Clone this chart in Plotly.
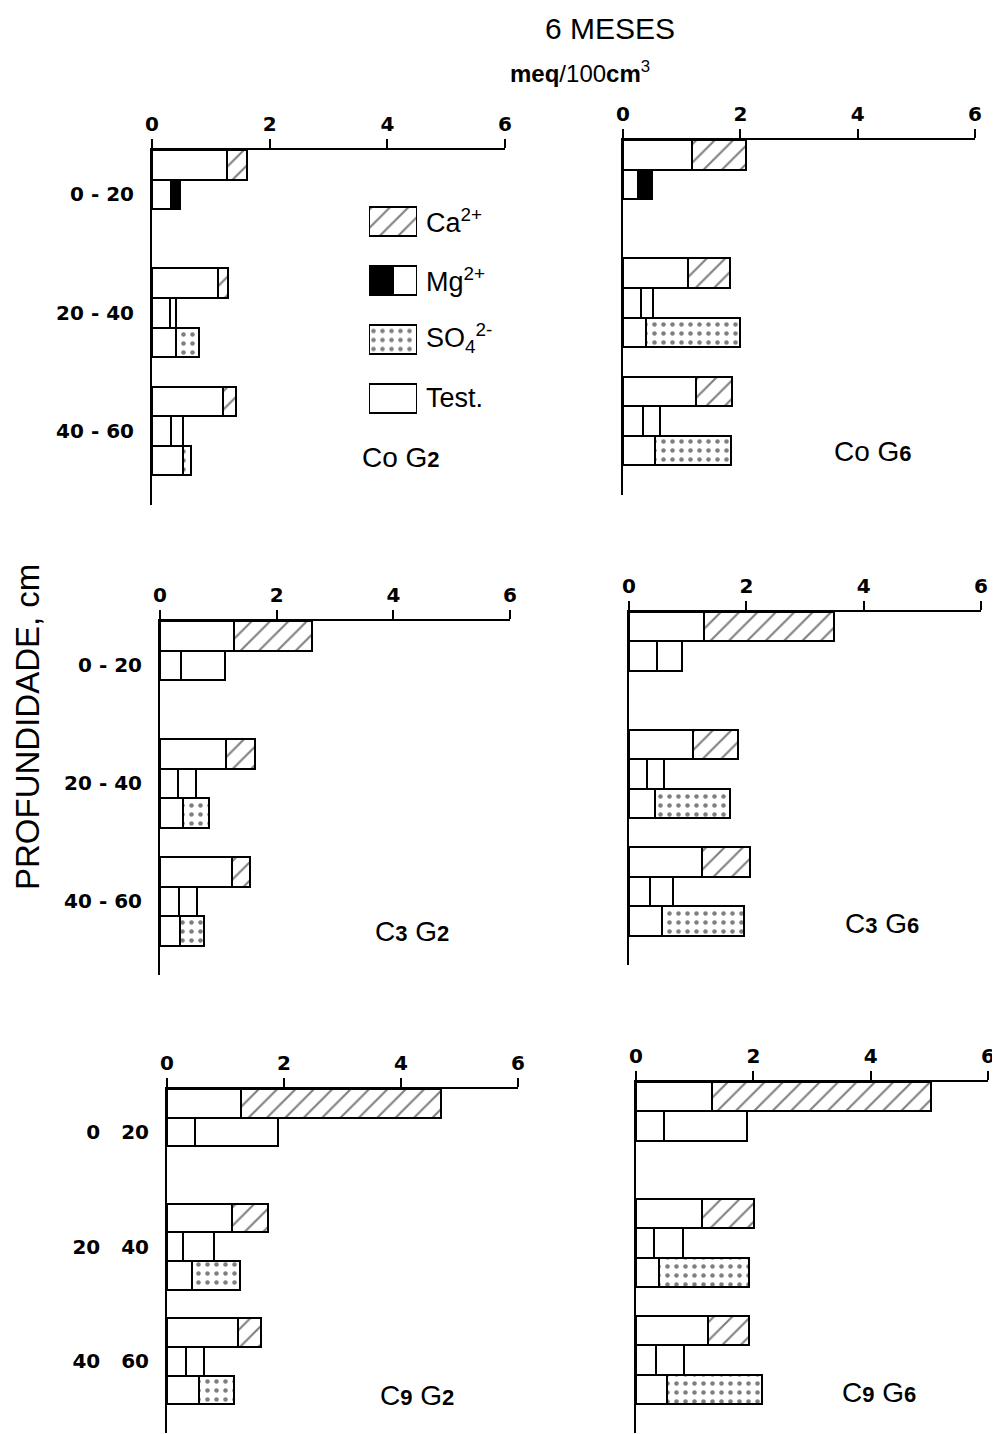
import plotly.graph_objects as go

# page body has an 8px margin: figure is drawn 8px in from the window corner
OFF = 8
W, H = 1000 - OFF, 1434 - OFF

# ---------------- data (meq/100cm3) ----------------
PANELS = ["CoG2", "CoG6", "C3G2", "C3G6", "C9G2", "C9G6"]
PANEL_TITLES = [
    "Co G<span style='font-size:22px'><b>2</b></span>",
    "Co G<span style='font-size:22px'><b>6</b></span>",
    "C<span style='font-size:22px'><b>3</b></span> G<span style='font-size:22px'><b>2</b></span>",
    "C<span style='font-size:22px'><b>3</b></span> G<span style='font-size:22px'><b>6</b></span>",
    "C<span style='font-size:22px'><b>9</b></span> G<span style='font-size:22px'><b>2</b></span>",
    "C<span style='font-size:22px'><b>9</b></span> G<span style='font-size:22px'><b>6</b></span>",
]
DEPTHS = ["0 - 20", "20 - 40", "40 - 60"]
DEPTHS_NODASH = ["0   20", "20   40", "40   60"]
X_TICKS = [0, 2, 4, 6]

CA_TEST = [
    [1.27, 1.13, 1.21],
    [1.17, 1.11, 1.24],
    [1.27, 1.13, 1.24],
    [1.27, 1.09, 1.25],
    [1.26, 1.11, 1.22],
    [1.29, 1.12, 1.23],
]
CA_TOTAL = [
    [1.61, 1.30, 1.42],
    [2.10, 1.82, 1.86],
    [2.60, 1.62, 1.54],
    [3.50, 1.85, 2.06],
    [4.68, 1.72, 1.61],
    [5.02, 2.01, 1.93],
]
MG_TEST = [
    [0.33, 0.31, 0.32],
    [0.26, 0.30, 0.34],
    [0.36, 0.30, 0.33],
    [0.48, 0.31, 0.35],
    [0.47, 0.28, 0.32],
    [0.48, 0.31, 0.34],
]
MG_TOTAL = [
    [0.48, 0.40, 0.52],
    [0.50, 0.51, 0.63],
    [1.11, 0.61, 0.64],
    [0.91, 0.60, 0.75],
    [1.89, 0.80, 0.64],
    [1.90, 0.80, 0.82],
]
SO4_TEST = [
    [None, 0.40, 0.53],
    [None, 0.40, 0.55],
    [None, 0.40, 0.34],
    [None, 0.44, 0.56],
    [None, 0.43, 0.54],
    [None, 0.40, 0.52],
]
SO4_TOTAL = [
    [None, 0.80, 0.67],
    [None, 2.00, 1.84],
    [None, 0.84, 0.75],
    [None, 1.73, 1.96],
    [None, 1.24, 1.14],
    [None, 1.93, 2.14],
]

LEGEND_LABELS = ["Ca<sup>2+</sup>", "Mg<sup>2+</sup>", "SO<sub>4</sub><sup>2-</sup>", "Test."]

# ---------------- styles / layout ----------------
MG_INC_COLOR = [
    ["black", "white", "white"],
    ["black", "white", "white"],
    ["white", "white", "white"],
    ["white", "white", "white"],
    ["white", "white", "white"],
    ["white", "white", "white"],
]
DEPTH_LABEL_SET = [DEPTHS, None, DEPTHS, None, DEPTHS_NODASH, None]
# panel boxes in window pixels: (x_left, x_right, y_top, y_bottom)
PANEL_PX = [
    (152, 505, 150, 505),
    (623, 975, 140, 495),
    (160, 510, 621, 975),
    (629, 981, 612, 965),
    (167, 518, 1089, 1433),
    (636, 988, 1082, 1433),
]
TITLE_PX = [(401, 457), (873, 451), (412, 931), (882, 923), (417, 1395), (879, 1392)]

LINE = dict(color="black", width=2)
HATCH = dict(shape="/", fgcolor="black", bgcolor="white", size=13, solidity=0.16)
DOTS = dict(shape=".", fgcolor="black", bgcolor="white", size=9, solidity=0.2)
TICKFONT = dict(family="DejaVu Sans", size=20, color="black", weight="bold")


def px_x(x):
    return (x - OFF) / W


def px_y(y):
    return 1 - (y - OFF) / H


def diff(tot, test):
    return [None if (a is None or b is None) else round(a - b, 3) for a, b in zip(tot, test)]


fig = go.Figure()
layout = {}

for i in range(6):
    xa = "x" if i == 0 else f"x{i + 1}"
    ya = "y" if i == 0 else f"y{i + 1}"
    ca_y = [4 * d for d in range(3)]
    mg_y = [4 * d + 1 for d in range(3)]
    so_y = [4 * d + 2 for d in range(3)]

    # control (Test.) bars
    fig.add_trace(go.Bar(
        x=CA_TEST[i] + MG_TEST[i] + SO4_TEST[i],
        y=ca_y + mg_y + so_y,
        orientation="h", width=1,
        marker=dict(color="white", line=LINE),
        xaxis=xa, yaxis=ya, showlegend=False, name="Test.",
    ))
    # increments
    fig.add_trace(go.Bar(
        x=diff(CA_TOTAL[i], CA_TEST[i]), y=ca_y, orientation="h", width=1,
        marker=dict(color="white", line=LINE, pattern=HATCH),
        xaxis=xa, yaxis=ya, showlegend=False, name="Ca2+",
    ))
    fig.add_trace(go.Bar(
        x=diff(MG_TOTAL[i], MG_TEST[i]), y=mg_y, orientation="h", width=1,
        marker=dict(color=MG_INC_COLOR[i], line=LINE),
        xaxis=xa, yaxis=ya, showlegend=False, name="Mg2+",
    ))
    fig.add_trace(go.Bar(
        x=diff(SO4_TOTAL[i], SO4_TEST[i]), y=so_y, orientation="h", width=1,
        marker=dict(color="white", line=LINE, pattern=DOTS),
        xaxis=xa, yaxis=ya, showlegend=False, name="SO42-",
    ))

    xl, xr, yt, yb = PANEL_PX[i]
    layout["xaxis" if i == 0 else f"xaxis{i + 1}"] = dict(
        domain=[px_x(xl), px_x(xr)], range=[0, 6], side="top", anchor=ya,
        tickvals=X_TICKS, ticktext=[str(v) for v in X_TICKS],
        ticks="outside", ticklen=9, tickwidth=2, tickcolor="black",
        showline=True, linewidth=2, linecolor="black", automargin=False,
        showgrid=False, zeroline=False, tickfont=TICKFONT,
    )
    ydict = dict(
        domain=[max(0.0, px_y(yb)), px_y(yt)], range=[11.5, -0.5], anchor=xa,
        ticks="", showline=True, linewidth=2, linecolor="black", automargin=False,
        showgrid=False, zeroline=False, tickfont=TICKFONT,
    )
    if DEPTH_LABEL_SET[i] is not None:
        ydict.update(tickvals=[1, 5, 9], ticktext=DEPTH_LABEL_SET[i], ticklabelstandoff=12)
    else:
        ydict.update(showticklabels=False)
    layout["yaxis" if i == 0 else f"yaxis{i + 1}"] = ydict

# ---------------- legend swatches (own hidden axes) ----------------
fig.add_trace(go.Bar(x=[2], y=[0], orientation="h", width=0.5,
                     marker=dict(color="white", line=LINE, pattern=HATCH),
                     xaxis="x7", yaxis="y7", showlegend=False))
fig.add_trace(go.Bar(x=[1], y=[1], orientation="h", width=0.5,
                     marker=dict(color="black", line=LINE),
                     xaxis="x7", yaxis="y7", showlegend=False))
fig.add_trace(go.Bar(x=[1], y=[1], orientation="h", width=0.5,
                     marker=dict(color="white", line=LINE),
                     xaxis="x7", yaxis="y7", showlegend=False))
fig.add_trace(go.Bar(x=[2], y=[2], orientation="h", width=0.5,
                     marker=dict(color="white", line=LINE, pattern=DOTS),
                     xaxis="x7", yaxis="y7", showlegend=False))
fig.add_trace(go.Bar(x=[2], y=[3], orientation="h", width=0.5,
                     marker=dict(color="white", line=LINE),
                     xaxis="x7", yaxis="y7", showlegend=False))
layout["xaxis7"] = dict(domain=[px_x(369), px_x(417)], range=[0, 2], anchor="y7",
                        visible=False, fixedrange=True, automargin=False)
layout["yaxis7"] = dict(domain=[px_y(427.5), px_y(191.5)], range=[3.5, -0.5], anchor="x7",
                        visible=False, fixedrange=True, automargin=False)

annotations = []
for lab, yc in zip(LEGEND_LABELS, [221, 280, 338, 398]):
    annotations.append(dict(text=lab, x=px_x(424), y=px_y(yc), xref="paper", yref="paper",
                            xanchor="left", yanchor="middle", showarrow=False,
                            font=dict(family="Liberation Sans", size=27, color="black")))

for t, (cx, cy) in zip(PANEL_TITLES, TITLE_PX):
    annotations.append(dict(text=t, x=px_x(cx), y=px_y(cy), xref="paper", yref="paper",
                            xanchor="center", yanchor="middle", showarrow=False,
                            font=dict(family="Liberation Sans", size=28, color="black")))

annotations.append(dict(text="6 MESES", x=px_x(610), y=px_y(28), xref="paper", yref="paper",
                        xanchor="center", yanchor="middle", showarrow=False,
                        font=dict(family="Liberation Sans", size=30, color="black")))
annotations.append(dict(text="<b>meq</b>/100<b>cm</b><sup>3</sup>", x=px_x(580), y=px_y(72),
                        xref="paper", yref="paper", xanchor="center", yanchor="middle",
                        showarrow=False,
                        font=dict(family="Liberation Sans", size=24, color="black")))
annotations.append(dict(text="PROFUNDIDADE, cm", x=px_x(27), y=px_y(727), xref="paper",
                        yref="paper", xanchor="center", yanchor="middle", textangle=-90,
                        showarrow=False,
                        font=dict(family="Liberation Sans", size=33, color="black")))

fig.update_layout(
    width=W, height=H, margin=dict(l=0, r=0, t=0, b=0),
    paper_bgcolor="white", plot_bgcolor="white",
    barmode="stack", bargap=0, showlegend=False,
    annotations=annotations, **layout,
)

fig.write_html("out.html")
